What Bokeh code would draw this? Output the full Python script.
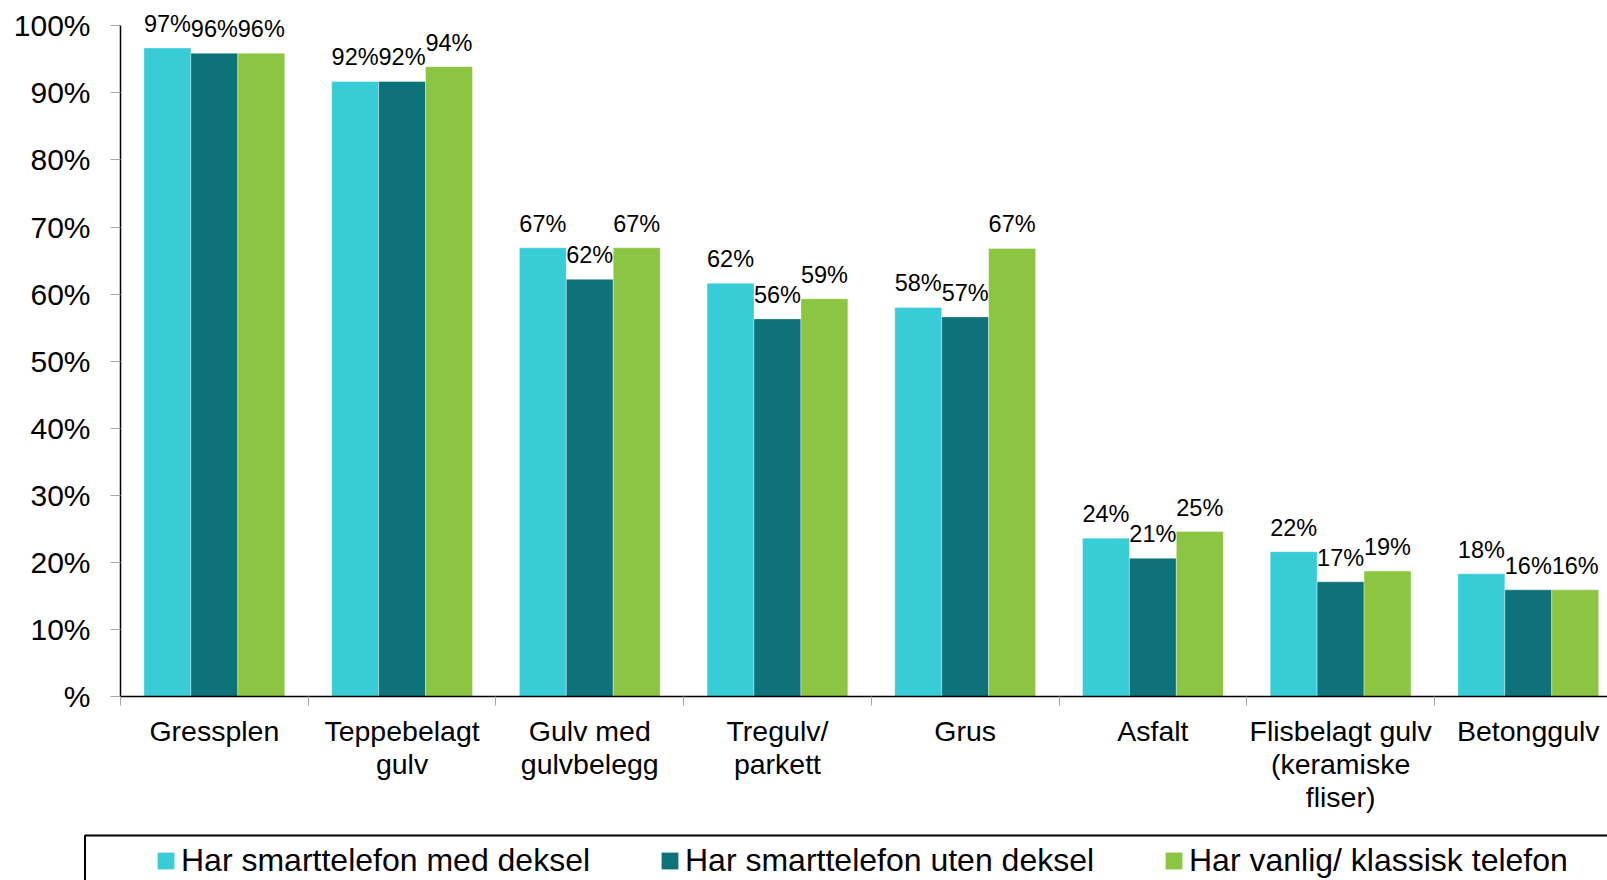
from bokeh.plotting import figure
from bokeh.layouts import column
from bokeh.models import (Range1d, FixedTicker, Legend, LegendItem, ColumnDataSource, LabelSet,
                          BoxAnnotation)
from bokeh.core.properties import value
from bokeh.embed import file_html
from bokeh.resources import INLINE

# ---- data ----
categories = ["Gressplen", "Teppebelagt\ngulv", "Gulv med\ngulvbelegg", "Tregulv/\nparkett",
              "Grus", "Asfalt", "Flisbelagt gulv\n(keramiske\nfliser)", "Betonggulv"]
series_names = ["Har smarttelefon med deksel", "Har smarttelefon uten deksel",
                "Har vanlig/ klassisk telefon"]
med_deksel = [96.7, 91.7, 66.9, 61.6, 58.0, 23.6, 21.6, 18.3]
uten_deksel = [95.9, 91.7, 62.2, 56.3, 56.6, 20.6, 17.1, 15.9]
vanlig_telefon = [95.9, 93.9, 66.9, 59.3, 66.8, 24.6, 18.7, 15.9]
colors = ["#38CDD6", "#0E727B", "#8BC541"]
y_ticks = [0, 10, 20, 30, 40, 50, 60, 70, 80, 90, 100]
y_tick_labels = ["%", "10%", "20%", "30%", "40%", "50%", "60%", "70%", "80%", "90%", "100%"]

FONT = "Liberation Sans"
n = len(categories)
centers = [i + 0.5 for i in range(n)]
bounds = [float(i) for i in range(n + 1)]
bar_w = 0.25
offsets = [-bar_w, 0.0, bar_w]

p = figure(width=1607, height=826,
           x_range=Range1d(0, 7.922), y_range=Range1d(0, 103.77),
           output_backend="svg", toolbar_location=None,
           min_border_left=120, min_border_right=0, min_border_top=0, min_border_bottom=130)
p.outline_line_color = None
p.xgrid.visible = False
p.ygrid.visible = False
p.background_fill_color = "white"

for vals, col, off in zip([med_deksel, uten_deksel, vanlig_telefon], colors, offsets):
    src = ColumnDataSource(dict(x=[c + off for c in centers], top=vals,
                                lab=[f"{v:.0f}%" for v in vals]))
    p.vbar(x="x", top="top", width=bar_w, bottom=0, source=src,
           fill_color=col, line_color="white", line_alpha=0.35, line_width=1)
    ls = LabelSet(x="x", y="top", text="lab", source=src, text_align="center",
                  text_baseline="alphabetic", y_offset=16, text_font=value(FONT),
                  text_font_size="23.5px", text_color="black")
    p.add_layout(ls)

# x axis
xa = p.xaxis[0]
xa.ticker = FixedTicker(ticks=centers, minor_ticks=bounds)
xa.major_label_overrides = {c: lab for c, lab in zip(centers, categories)}
xa.major_tick_out = 0
xa.major_tick_in = 0
xa.major_tick_line_color = None
xa.minor_tick_out = 9
xa.minor_tick_in = 0
xa.minor_tick_line_color = "#a6a6a6"
xa.axis_line_color = "black"
xa.axis_line_width = 1.5
xa.major_label_text_font = FONT
xa.major_label_text_font_size = "28.5px"
xa.major_label_text_line_height = 1.04
xa.major_label_text_color = "black"
xa.major_label_standoff = 9

# y axis
ya = p.yaxis[0]
ya.bounds = (0, 100)
ya.ticker = FixedTicker(ticks=y_ticks, minor_ticks=[])
ya.major_label_overrides = {t: lab for t, lab in zip(y_ticks, y_tick_labels)}
ya.major_tick_out = 10
ya.major_tick_in = 0
ya.major_tick_line_color = "#a6a6a6"
ya.minor_tick_line_color = None
ya.axis_line_color = "black"
ya.axis_line_width = 1.5
ya.major_label_text_font = FONT
ya.major_label_text_font_size = "30px"
ya.major_label_text_color = "black"
ya.major_label_standoff = 20

# ---- legend strip ----
p2 = figure(width=1607, height=54, x_range=Range1d(0, 1), y_range=Range1d(0, 1),
            x_axis_type=None, y_axis_type=None, output_backend="svg", toolbar_location=None,
            min_border=0, min_border_left=0, min_border_right=0, min_border_top=0,
            min_border_bottom=0)
p2.outline_line_color = None
p2.xgrid.visible = False
p2.ygrid.visible = False
# legend swatches only (zero-height, nothing drawn in the strip itself)
leg_renderers = [p2.vbar(x=[-10], top=[0], bottom=[0], width=0.01, fill_color=c, line_color=None)
                 for c in colors]

box = BoxAnnotation(left=84.5, right=1900, top=9, bottom=400,
                    left_units="canvas", right_units="canvas",
                    top_units="canvas", bottom_units="canvas",
                    fill_alpha=0, fill_color=None, line_color="black", line_alpha=1,
                    line_width=2)
p2.add_layout(box)

legend = Legend(items=[LegendItem(label=nm, renderers=[r]) for nm, r in zip(series_names, leg_renderers)],
                orientation="horizontal", location=(155, 1.35), padding=0, margin=0,
                spacing=58, glyph_width=21, glyph_height=21, label_standoff=5,
                label_width=420, label_height=21,
                label_text_font=FONT, label_text_font_size="32px", label_text_color="black",
                border_line_color=None, background_fill_alpha=0)
p2.add_layout(legend)

layout = column(p, column(p2, spacing=0), spacing=0)
open("out.html", "w").write(file_html(layout, INLINE))
